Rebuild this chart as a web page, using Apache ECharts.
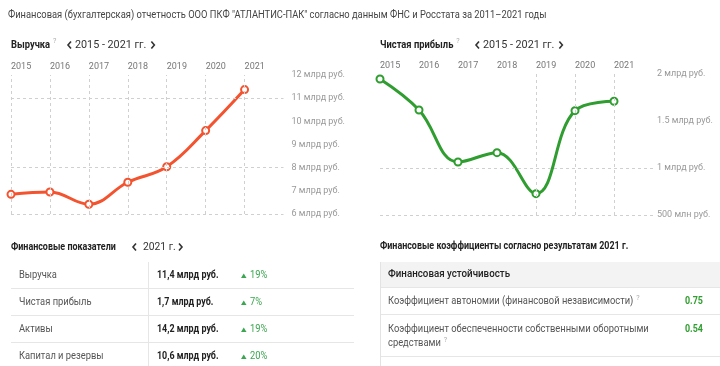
<!DOCTYPE html>
<html><head><meta charset="utf-8">
<script src="https://cdn.jsdelivr.net/npm/echarts@6/dist/echarts.min.js"></script>
<style>html,body{margin:0;padding:0;background:#fff;}#c{width:720px;height:366px;}</style>
</head><body><div id="c"></div>
<script>
const years = [2015, 2016, 2017, 2018, 2019, 2020, 2021];
const revenue = [6.85, 6.95, 6.42, 7.37, 8.04, 9.6, 11.37];
const profit = [1.947, 1.617, 1.064, 1.163, 0.727, 1.61, 1.71];
const revTicks = [6, 7, 8, 9, 10, 11, 12];
const revTickLabels = ['6 млрд руб.', '7 млрд руб.', '8 млрд руб.', '9 млрд руб.', '10 млрд руб.', '11 млрд руб.', '12 млрд руб.'];
const profitTicks = [0.5, 1, 1.5, 2];
const profitTickLabels = ['500 млн руб.', '1 млрд руб.', '1.5 млрд руб.', '2 млрд руб.'];
const revGridY = [11, 8, 6];
const profitGridY = [1, 0.5];
const profitGridX = [2019, 2020, 2021];

const pageTitle = 'Финансовая (бухгалтерская) отчетность ООО ПКФ "АТЛАНТИС-ПАК" согласно данным ФНС и Росстата за 2011–2021 годы';
const revTitle = 'Выручка';
const profitTitle = 'Чистая прибыль';
const periodText = '2015 - 2021 гг.';
const indTitle = 'Финансовые показатели';
const indYear = '2021 г.';
const indNames = ['Выручка', 'Чистая прибыль', 'Активы', 'Капитал и резервы'];
const indValues = ['11,4 млрд руб.', '1,7 млрд руб.', '14,2 млрд руб.', '10,6 млрд руб.'];
const indChanges = ['19%', '7%', '19%', '20%'];
const ratioTitle = 'Финансовые коэффициенты согласно результатам 2021 г.';
const ratioGroup = 'Финансовая устойчивость';
const ratioNames = [['Коэффициент автономии (финансовой независимости)'], ['Коэффициент обеспеченности собственными оборотными', 'средствами']];
const ratioValues = ['0.75', '0.54'];

const FF = 'Roboto, "Noto Sans", sans-serif';
const RED = '#f4532f', GREEN = '#2f9d2f', GRID = '#d0d0d0', TXT = '#333';
const SX = { normal: 0.89, bold: 0.85, '500': 0.93, wide: 0.98 };
const cv = document.createElement('canvas').getContext('2d');
function tw(t, size, weight) { const w = weight === 'wide' ? 'normal' : (weight || 'normal'); cv.font = w + ' ' + size + 'px ' + FF; return cv.measureText(t).width * SX[weight || 'normal']; }

const g = [];
function txt(x, y, t, size, color, weight, align) {
  weight = weight || 'normal';
  g.push({ type: 'text', x: x, y: y, scaleX: SX[weight], silent: true, style: { text: t, fontSize: size, fontFamily: FF, fill: color, fontWeight: weight === 'wide' ? 'normal' : weight, textAlign: align || 'left', textVerticalAlign: 'middle' } });
}
function rect(x, y, w, h, color) { g.push({ type: 'rect', silent: true, shape: { x: x, y: y, width: w, height: h }, style: { fill: color } }); }
function chev(x, y, dir) {
  const p = dir < 0 ? [[x + 3, y - 3.5], [x, y], [x + 3, y + 3.5]] : [[x, y - 3.5], [x + 3, y], [x, y + 3.5]];
  g.push({ type: 'polyline', silent: true, shape: { points: p }, style: { stroke: '#333', lineWidth: 1.6, fill: null } });
}
function header(x, y, title, period, cx) {
  txt(x, y, title, 11, '#222', 'bold');
  const w = tw(title, 11, 'bold');
  txt(x + w + 3, y - 4, '?', 8, '#aaa');
  chev(cx, y, -1);
  txt(cx + 7, y, period, 11, TXT, 'wide');
  chev(cx + 7 + tw(period, 11, 'wide') + 5, y, 1);
}

txt(8, 15, pageTitle, 10.5, '#444');
header(11, 45, revTitle, periodText, 68);
header(380, 45, profitTitle, periodText, 476);

// Indicators table
txt(11, 247, indTitle, 10.5, '#222', 'bold');
chev(133, 247, -1);
txt(143, 247, indYear, 10.5, TXT, 'wide');
chev(179, 247, 1);
rect(148, 262, 1, 104, '#e6e6e6');
[288, 315, 342].forEach(y => rect(11, y, 343, 1, '#e6e6e6'));
indNames.forEach((n, i) => {
  const y = 275.5 + i * 27;
  txt(19, y, n, 10.5, '#555');
  txt(157, y, indValues[i], 10.5, '#222', 'bold');
  g.push({ type: 'polygon', silent: true, shape: { points: [[241, y + 2.5], [246.5, y + 2.5], [243.75, y - 2]] }, style: { fill: '#3aa650' } });
  txt(250, y, indChanges[i], 10.5, '#3aa650');
});

// Ratios table
txt(380, 246, ratioTitle, 10.5, '#222', 'bold');
rect(381, 262, 339, 25, '#f3f3f3');
rect(380, 262, 1, 104, '#e3e3e3');
[287, 314, 356].forEach(y => rect(381, y, 339, 1, '#e6e6e6'));
txt(388, 274.5, ratioGroup, 10.5, '#222', '500');
const rowsY = [[301.5], [329, 343.5]];
ratioNames.forEach((lines, i) => {
  lines.forEach((l, j) => {
    const y = rowsY[i][j];
    txt(388, y, l, 10.5, '#555');
    if (j === lines.length - 1) txt(388 + tw(l, 10.5) + 3, y - 4, '?', 8, '#aaa');
  });
  txt(685, rowsY[i][0], ratioValues[i], 10.5, GREEN, 'bold');
});

function mkSeries(data, color, xi, gy, gx) {
  const ml = [];
  gx.forEach(v => ml.push({ xAxis: v }));
  gy.forEach(v => ml.push({ yAxis: v }));
  return {
    type: 'line', xAxisIndex: xi, yAxisIndex: xi,
    data: years.map((y, i) => [y, data[i]]),
    smooth: 0.4, symbol: 'circle', symbolSize: 7, showSymbol: true,
    lineStyle: { color: color, width: 3 },
    itemStyle: { color: '#fff', borderColor: color, borderWidth: 2 },
    z: 3,
    markLine: { silent: true, symbol: ['none', 'none'], label: { show: false }, animation: false,
      lineStyle: { color: GRID, type: [3, 3], width: 1 }, emphasis: { disabled: true }, data: ml }
  };
}
function xAx(gi) {
  return { type: 'value', gridIndex: gi, min: 2015, max: 2022, interval: 1, position: 'top',
    axisLine: { show: false }, axisTick: { show: false }, splitLine: { show: false },
    axisLabel: { align: 'left', margin: 4, fontSize: 9, color: '#777', fontFamily: FF, showMaxLabel: false,
      formatter: v => years.indexOf(v) >= 0 ? String(v) : '' } };
}
function yAx(gi, min, max, iv, ticks, labels, margin) {
  return { type: 'value', gridIndex: gi, min: min, max: max, interval: iv, position: 'right',
    axisLine: { show: false }, axisTick: { show: false }, splitLine: { show: false },
    axisLabel: { margin: margin, fontSize: 9, color: '#999', fontFamily: FF, padding: [0, 0, 8, 0],
      formatter: v => { const k = ticks.findIndex(t => Math.abs(t - v) < 1e-9); return k >= 0 ? labels[k] : ''; } } };
}

const chart = echarts.init(document.getElementById('c'), null, { renderer: 'canvas' });
chart.setOption({
  animation: false,
  grid: [
    { left: 11, right: 720 - 283.5, top: 75, bottom: 366 - 214 },
    { left: 380, right: 720 - 653, top: 74, bottom: 366 - 215 }
  ],
  xAxis: [xAx(0), xAx(1)],
  yAxis: [yAx(0, 6, 12, 1, revTicks, revTickLabels, 8), yAx(1, 0.5, 2, 0.5, profitTicks, profitTickLabels, 4)],
  series: [
    mkSeries(revenue, RED, 0, revGridY, years),
    mkSeries(profit, GREEN, 1, profitGridY, profitGridX)
  ],
  graphic: g
});
</script></body></html>
